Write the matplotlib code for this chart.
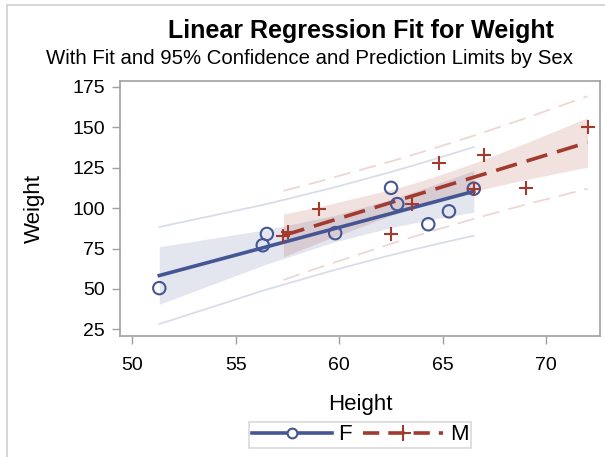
import numpy as np
import matplotlib
matplotlib.use("Agg")
import matplotlib.pyplot as plt
from matplotlib.patches import Rectangle
from matplotlib.lines import Line2D

plt.rcParams['font.family'] = ['Liberation Sans', 'DejaVu Sans']

# sashelp.class, split by sex
f_height = [56.5, 65.3, 62.8, 59.8, 62.5, 51.3, 64.3, 56.3, 66.5]
f_weight = [84.0, 98.0, 102.5, 84.5, 112.5, 50.5, 90.0, 77.0, 112.0]
m_height = [69.0, 63.5, 57.3, 62.5, 59.0, 72.0, 64.8, 67.0, 57.5, 66.5]
m_weight = [112.5, 102.5, 83.0, 84.0, 99.5, 150.0, 128.0, 133.0, 85.0, 112.0]

x_ticks = [50, 55, 60, 65, 70]
y_ticks = [25, 50, 75, 100, 125, 150, 175]

# 95% two-sided t quantile, df = 19 - 4 (separate slopes, pooled error)
t_975 = 2.131450

blue = '#445694'
red = '#A23A2E'


def line_fit(x, y):
    x = np.asarray(x)
    y = np.asarray(y)
    b1, b0 = np.polyfit(x, y, 1)
    sse = np.sum((y - (b0 + b1 * x)) ** 2)
    return b0, b1, sse


fits = [line_fit(f_height, f_weight), line_fit(m_height, m_weight)]
mse = (fits[0][2] + fits[1][2]) / (len(f_height) + len(m_height) - 4)
s = np.sqrt(mse)


def bands(x, b0, b1):
    x = np.asarray(x)
    n = len(x)
    sxx = np.sum((x - x.mean()) ** 2)
    xs = np.unique(x)
    yhat = b0 + b1 * xs
    se_m = s * np.sqrt(1 / n + (xs - x.mean()) ** 2 / sxx)
    se_p = s * np.sqrt(1 + 1 / n + (xs - x.mean()) ** 2 / sxx)
    return xs, yhat, yhat - t_975 * se_m, yhat + t_975 * se_m, yhat - t_975 * se_p, yhat + t_975 * se_p


fig = plt.figure(figsize=(6.05, 4.57), dpi=100)
# outer border of the graph
fig.patches.append(Rectangle((7 / 605, -0.1), 1.1, 1.1 - 5 / 457,
                             transform=fig.transFigure, fill=False,
                             edgecolor='#cfcfcf', linewidth=1.2))

ax = fig.add_axes([120 / 605, 1 - 336 / 457, 480 / 605, 255 / 457])

groups = [(f_height, f_weight, blue, 'solid'), (m_height, m_weight, red, 'dash')]
curves = [bands(g[0], fits[i][0], fits[i][1]) for i, g in enumerate(groups)]

for (hx, wy, col, kind), (xs, yhat, lcl, ucl, lpl, upl) in zip(groups, curves):
    ax.fill_between(xs, lcl, ucl, color=col, alpha=0.15, linewidth=0, zorder=1)
for (hx, wy, col, kind), (xs, yhat, lcl, ucl, lpl, upl) in zip(groups, curves):
    pls = '-' if kind == 'solid' else (0, (9.5, 5))
    ax.plot(xs, lpl, color=col, alpha=0.2, linewidth=1.3, linestyle=pls, zorder=2)
    ax.plot(xs, upl, color=col, alpha=0.2, linewidth=1.3, linestyle=pls, zorder=2)
for (hx, wy, col, kind), (xs, yhat, lcl, ucl, lpl, upl) in zip(groups, curves):
    fls = '-' if kind == 'solid' else (0, (6, 2.8))
    ax.plot(xs, yhat, color=col, linewidth=2.6, linestyle=fls, zorder=3)

ax.scatter(f_height, f_weight, s=80, facecolors='none', edgecolors=blue,
           linewidths=1.5, zorder=4)
ax.scatter(m_height, m_weight, s=90, marker='+', color=red, linewidths=1.5, zorder=4)

ax.set_xlim(49.4, 72.6)
ax.set_ylim(20.9, 178.6)
ax.set_xticks(x_ticks)
ax.set_yticks(y_ticks)
for sp in ax.spines.values():
    sp.set_color('#a0a0a0')
    sp.set_linewidth(1.2)
ax.tick_params(direction='out', length=6, width=1, color='#a0a0a0',
               labelsize=14, labelcolor='black')
ax.tick_params(axis='x', pad=9)
ax.tick_params(axis='y', pad=5)
ax.set_xlabel('Height', fontsize=16)
ax.set_ylabel('Weight', fontsize=16)
ax.xaxis.set_label_coords(0.5, -0.227)
ax.yaxis.set_label_coords(-0.156, 0.5)

fig.text(361 / 605, 1 - 31 / 457, 'Linear Regression Fit for Weight', ha='center',
         va='center', fontsize=18, fontweight='bold')
fig.text(310 / 605, 1 - 58 / 457, 'With Fit and 95% Confidence and Prediction Limits by Sex',
         ha='center', va='center', fontsize=14.7)

handles = [
    Line2D([], [], color=blue, linewidth=2.6, marker='o', markersize=7,
           markerfacecolor='white', markeredgewidth=1.5),
    Line2D([], [], color=red, linewidth=2.6, linestyle=(0, (4.5, 2.5)), marker='+',
           markersize=11, markeredgewidth=1.5),
]
leg = fig.legend(handles, ['F', 'M'], loc='center', bbox_to_anchor=(360 / 605, 1 - 435 / 457),
                 ncol=2, fontsize=16, handlelength=3.6, handletextpad=0.3,
                 columnspacing=0.5, frameon=True, fancybox=False,
                 borderpad=0.1, borderaxespad=0)
leg.get_frame().set_edgecolor('#cfcfcf')
leg.get_frame().set_linewidth(1.2)

fig.savefig('out.png', dpi=100)
